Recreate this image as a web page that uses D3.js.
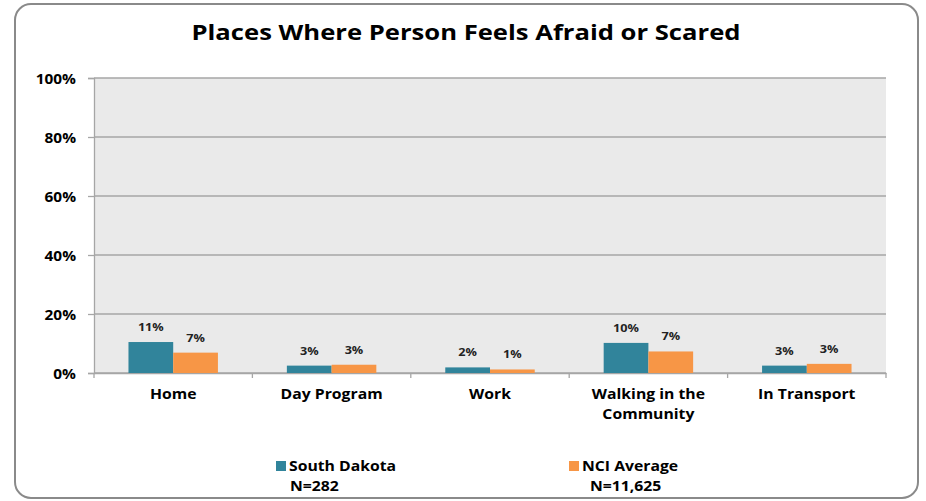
<!DOCTYPE html>
<html><head><meta charset="utf-8">
<script src="https://cdn.jsdelivr.net/npm/d3@7"></script>
<style>
html,body{margin:0;padding:0;background:#fff;}
svg{display:block;font-family:"Open Sans",sans-serif;}
</style></head>
<body>
<svg id="chart" width="926" height="501"></svg>
<script>
const title = "Places Where Person Feels Afraid or Scared";
const categories = ["Home", "Day Program", "Work", "Walking in the Community", "In Transport"];
const categoryLines = [["Home"], ["Day Program"], ["Work"], ["Walking in the", "Community"], ["In Transport"]];
const seriesNames = ["South Dakota", "NCI Average"];
const seriesN = ["N=282", "N=11,625"];
const southDakota = [10.5, 2.5, 1.9, 10.2, 2.5];
const nciAverage = [6.9, 2.8, 1.2, 7.3, 3.1];
const southDakotaLabels = ["11%", "3%", "2%", "10%", "3%"];
const nciAverageLabels = ["7%", "3%", "1%", "7%", "3%"];
const yTicks = [0, 20, 40, 60, 80, 100];
const colors = ["#31849B", "#F79646"];

function stretch(sel, k) {
  sel.each(function () {
    const w = this.getComputedTextLength();
    d3.select(this).attr("textLength", w * k).attr("lengthAdjust", "spacingAndGlyphs");
  });
}

const svg = d3.select("#chart");
svg.append("rect").attr("x", 15).attr("y", 4).attr("width", 903).attr("height", 494)
  .attr("rx", 16).attr("ry", 16).attr("fill", "#fff").attr("stroke", "#8a8a8a").attr("stroke-width", 2);

svg.append("text").attr("x", 466).attr("y", 40).attr("text-anchor", "middle")
  .attr("font-size", 21).attr("font-weight", 700).attr("fill", "#000").text(title)
  .call(stretch, 1.22);

const L = 94, R = 886, T = 78, B = 373;
const x = d3.scaleBand().domain(categories).range([L, R]);
const y = d3.scaleLinear().domain([0, 100]).range([B, T]);
const xs = d3.scaleBand().domain(seriesNames).range([0, x.bandwidth()]).paddingInner(0).paddingOuter(0.7707);

svg.append("rect").attr("x", L).attr("y", T).attr("width", R - L).attr("height", B - T).attr("fill", "#EAEAEA");

svg.append("g").selectAll("line").data(yTicks).join("line")
  .attr("x1", L).attr("x2", R).attr("y1", d => y(d)).attr("y2", d => y(d))
  .attr("stroke", "#A6A6A6").attr("stroke-width", 1.3);

const yAxis = svg.append("g").attr("transform", `translate(${L},0)`)
  .call(d3.axisLeft(y).tickValues(yTicks).tickFormat(d => d + "%").tickSize(6).tickPadding(12));
yAxis.select(".domain").attr("stroke", "#A6A6A6").attr("stroke-width", 1.3);
yAxis.selectAll(".tick line").attr("stroke", "#A6A6A6").attr("stroke-width", 1.3);
yAxis.selectAll("text").attr("font-size", 14).attr("font-weight", 700).attr("fill", "#000")
  .attr("font-family", "'Open Sans',sans-serif").attr("dy", "0.36em").call(stretch, 1.1);

const xAxis = svg.append("g").attr("transform", `translate(0,${B})`)
  .call(d3.axisBottom(x).tickValues([]).tickSizeOuter(0));
xAxis.select(".domain").attr("stroke", "#A6A6A6").attr("stroke-width", 1.3);
const boundaries = categories.map(c => x(c)).concat([R]);
xAxis.selectAll("line.bd").data(boundaries).join("line").attr("class", "bd")
  .attr("x1", d => d).attr("x2", d => d).attr("y1", 0).attr("y2", 5)
  .attr("stroke", "#A6A6A6").attr("stroke-width", 1.3);

const labG = svg.append("g");
categories.forEach((c, i) => {
  categoryLines[i].forEach((ln, j) => {
    labG.append("text").attr("x", x(c) + x.bandwidth() / 2).attr("y", 399 + j * 20)
      .attr("text-anchor", "middle").attr("font-size", 15).attr("font-weight", 700).attr("fill", "#000")
      .text(ln).call(stretch, 1.05);
  });
});

const data = [southDakota, nciAverage];
const labels = [southDakotaLabels, nciAverageLabels];
data.forEach((vals, s) => {
  const g = svg.append("g");
  g.selectAll("rect").data(vals).join("rect")
    .attr("x", (d, i) => x(categories[i]) + xs(seriesNames[s]))
    .attr("y", d => y(d)).attr("width", xs.bandwidth()).attr("height", d => B - y(d))
    .attr("fill", colors[s]);
  g.selectAll("text").data(vals).join("text")
    .attr("x", (d, i) => x(categories[i]) + xs(seriesNames[s]) + xs.bandwidth() / 2)
    .attr("y", d => y(d) - 11).attr("text-anchor", "middle")
    .attr("font-size", 11).attr("font-weight", 700).attr("fill", "#222")
    .text((d, i) => labels[s][i]).call(stretch, 1.15);
});

const legX = [276, 569];
seriesNames.forEach((n, s) => {
  svg.append("rect").attr("x", legX[s]).attr("y", 461).attr("width", 10).attr("height", 10).attr("fill", colors[s]);
  svg.append("text").attr("x", legX[s] + 13).attr("y", 471).attr("font-size", 15).attr("font-weight", 700).attr("fill", "#000").text(n).call(stretch, 1.05);
  svg.append("text").attr("x", legX[s] + 14 + (s === 0 ? 0 : 7)).attr("y", 491).attr("font-size", 15).attr("font-weight", 700).attr("fill", "#000").text(seriesN[s]).call(stretch, 1.05);
});
</script>
</body></html>
